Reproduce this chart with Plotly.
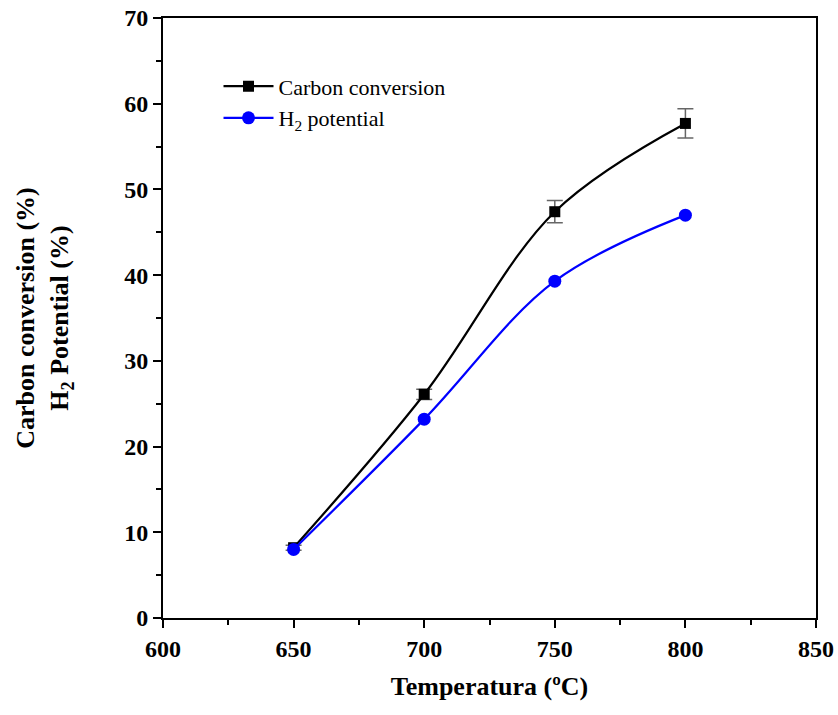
import plotly.graph_objects as go

temps = [650, 700, 750, 800]
carbon_conv = [8.2, 26.1, 47.4, 57.7]
carbon_err = [0.3, 0.6, 1.3, 1.7]
h2_potential = [8.0, 23.2, 39.3, 47.0]

x_ticks = [600, 650, 700, 750, 800, 850]
y_ticks = [0, 10, 20, 30, 40, 50, 60, 70]

FONT = "Liberation Serif"

fig = go.Figure()
fig.add_trace(go.Scatter(
    x=temps, y=carbon_conv, name="Carbon conversion",
    mode="lines+markers",
    line=dict(color="black", width=2.2, shape="spline", smoothing=1.0),
    marker=dict(symbol="square", size=11, color="black"),
    error_y=dict(type="data", array=carbon_err, visible=True,
                 color="#666666", thickness=1.5, width=8),
))
fig.add_trace(go.Scatter(
    x=temps, y=h2_potential, name="H<sub>2</sub> potential",
    mode="lines+markers",
    line=dict(color="#0000ff", width=2.2, shape="spline", smoothing=1.0),
    marker=dict(symbol="circle", size=13, color="#0000ff"),
))

axis_common = dict(
    showline=True, linecolor="black", linewidth=2, mirror=True,
    ticks="outside", ticklen=8, tickwidth=2, tickcolor="black",
    showgrid=False, zeroline=False, automargin=False,
    ticklabeloverflow="allow",
    tickfont=dict(family=FONT, size=24, color="black", weight="bold"),
)

fig.update_xaxes(
    range=[600, 850], tickvals=x_ticks,
    minor=dict(ticks="outside", ticklen=5, tickwidth=2, tickcolor="black", dtick=25, showgrid=False),
    title=dict(text="<b>Temperatura (ºC)</b>", font=dict(family=FONT, size=26, color="black"), standoff=16),
    **axis_common,
)
fig.update_yaxes(
    range=[0, 70], tickvals=y_ticks,
    minor=dict(ticks="outside", ticklen=5, tickwidth=2, tickcolor="black", dtick=5, showgrid=False),
    title=dict(text="<b>Carbon conversion (%)<br>H<sub>2</sub> Potential (%)</b>",
               font=dict(family=FONT, size=26, color="black"), standoff=48),
    **axis_common,
)

fig.update_layout(
    width=838, height=715,
    margin=dict(l=163, r=22, t=18, b=97, autoexpand=False),
    plot_bgcolor="white", paper_bgcolor="white",
    showlegend=True,
    legend=dict(x=0.085, y=0.921, xanchor="left", yanchor="top",
                font=dict(family=FONT, size=22, color="black"),
                bgcolor="rgba(0,0,0,0)", itemwidth=50, tracegroupgap=4),
)

fig.write_html("out.html")
